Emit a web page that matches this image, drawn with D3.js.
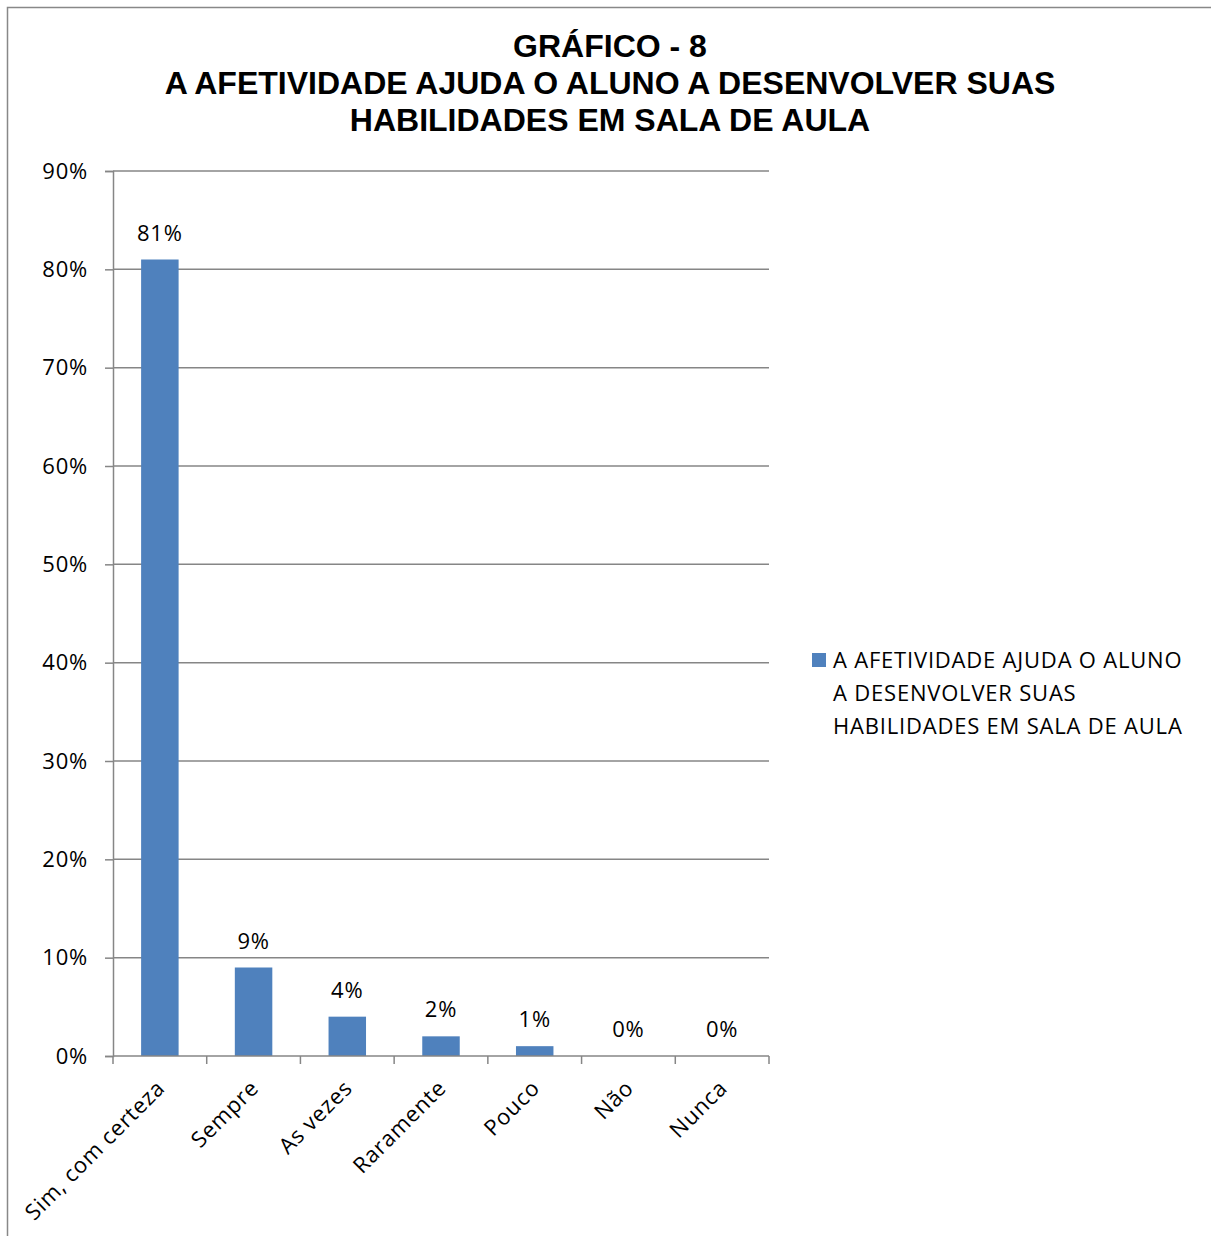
<!DOCTYPE html>
<html>
<head>
<meta charset="utf-8">
<script src="https://cdn.jsdelivr.net/npm/d3@7"></script>
<style>
  body { margin: 0; background: #fff; }
  svg text { font-family: "Open Sans", "DejaVu Sans", sans-serif; }
</style>
</head>
<body>
<svg id="chart" width="1211" height="1236"></svg>
<script>
const categories = ["Sim, com certeza", "Sempre", "As vezes", "Raramente", "Pouco", "Não", "Nunca"];
const values = [0.81, 0.09, 0.04, 0.02, 0.01, 0, 0];
const yTicks = [0, 0.1, 0.2, 0.3, 0.4, 0.5, 0.6, 0.7, 0.8, 0.9];
const titleLines = ["GRÁFICO - 8", "A AFETIVIDADE AJUDA O ALUNO A DESENVOLVER SUAS", "HABILIDADES EM SALA DE AULA"];
const legendLines = ["A AFETIVIDADE AJUDA O ALUNO", "A DESENVOLVER SUAS", "HABILIDADES EM SALA DE AULA"];

const svg = d3.select("#chart");
const plot = { left: 113, right: 769, top: 171, bottom: 1056 };
const barColor = "#4f81bd";
const gridColor = "#868686";
const fontSize = "22px";
const spacing = "0.8px";

// outer frame (cut off at right and bottom)
svg.append("path")
    .attr("d", "M7.5,1236 L7.5,7.5 L1211,7.5")
    .attr("fill", "none")
    .attr("stroke", "#888")
    .attr("stroke-width", 1.5);

svg.append("g")
    .selectAll("text")
    .data(titleLines)
    .enter()
    .append("text")
    .attr("x", 610)
    .attr("y", (d, i) => 57 + i * 37)
    .attr("text-anchor", "middle")
    .style("font-family", "'Liberation Sans', Arial, sans-serif")
    .style("font-weight", "bold")
    .style("font-size", "32px")
    .text(d => d);

const xb = d3.scaleBand()
    .domain(categories)
    .range([plot.left, plot.right]);

const y = d3.scaleLinear()
    .domain([0, 0.9])
    .range([plot.bottom, plot.top]);

// gridlines
svg.append("g")
    .selectAll("line")
    .data(yTicks.filter(t => t > 0))
    .enter()
    .append("line")
    .attr("x1", plot.left)
    .attr("x2", plot.right)
    .attr("y1", d => y(d))
    .attr("y2", d => y(d))
    .attr("stroke", gridColor)
    .attr("stroke-width", 1.5);

// y axis
const yAxis = svg.append("g")
    .attr("transform", `translate(${plot.left},0)`)
    .call(d3.axisLeft(y).tickValues(yTicks).tickFormat(d3.format(".0%")).tickSize(8).tickPadding(17));
yAxis.select(".domain").attr("stroke", gridColor).attr("stroke-width", 1.5);
yAxis.selectAll(".tick line").attr("stroke", gridColor).attr("stroke-width", 1.5);
yAxis.selectAll("text")
    .style("font-size", fontSize)
    .style("letter-spacing", spacing)
    .style("font-family", "'Open Sans', sans-serif")
    .attr("fill", "#000");

// bars
svg.append("g")
    .selectAll("rect")
    .data(categories)
    .enter()
    .append("rect")
    .attr("x", d => xb(d) + xb.bandwidth() * 0.3)
    .attr("width", xb.bandwidth() * 0.4)
    .attr("y", (d, i) => y(values[i]))
    .attr("height", (d, i) => plot.bottom - y(values[i]))
    .attr("fill", barColor);

// x axis
svg.append("line")
    .attr("x1", plot.left).attr("x2", plot.right)
    .attr("y1", plot.bottom).attr("y2", plot.bottom)
    .attr("stroke", gridColor).attr("stroke-width", 1.5);
svg.append("g")
    .selectAll("line")
    .data(d3.range(categories.length + 1))
    .enter()
    .append("line")
    .attr("x1", i => plot.left + i * xb.step())
    .attr("x2", i => plot.left + i * xb.step())
    .attr("y1", plot.bottom)
    .attr("y2", plot.bottom + 8)
    .attr("stroke", gridColor)
    .attr("stroke-width", 1.5);

// category labels
svg.append("g")
    .selectAll("text")
    .data(categories)
    .enter()
    .append("text")
    .attr("transform", d => `translate(${xb(d) + xb.bandwidth() / 2 + 1},${plot.bottom + 28}) rotate(-45)`)
    .attr("text-anchor", "end")
    .attr("dy", "0.35em")
    .style("font-size", fontSize)
    .style("letter-spacing", spacing)
    .text(d => d);

// value labels
svg.append("g")
    .selectAll("text")
    .data(categories)
    .enter()
    .append("text")
    .attr("x", d => xb(d) + xb.bandwidth() / 2)
    .attr("y", (d, i) => y(values[i]) - 19)
    .attr("text-anchor", "middle")
    .style("font-size", fontSize)
    .style("letter-spacing", spacing)
    .text((d, i) => d3.format(".0%")(values[i]));

// legend
const legend = svg.append("g");
legend.append("rect")
    .attr("x", 812).attr("y", 653)
    .attr("width", 14).attr("height", 14)
    .attr("fill", barColor);
legend.selectAll("text")
    .data(legendLines)
    .enter()
    .append("text")
    .attr("x", 833)
    .attr("y", (d, i) => 668 + i * 33)
    .style("font-size", fontSize)
    .style("letter-spacing", spacing)
    .text(d => d);
</script>
</body>
</html>
